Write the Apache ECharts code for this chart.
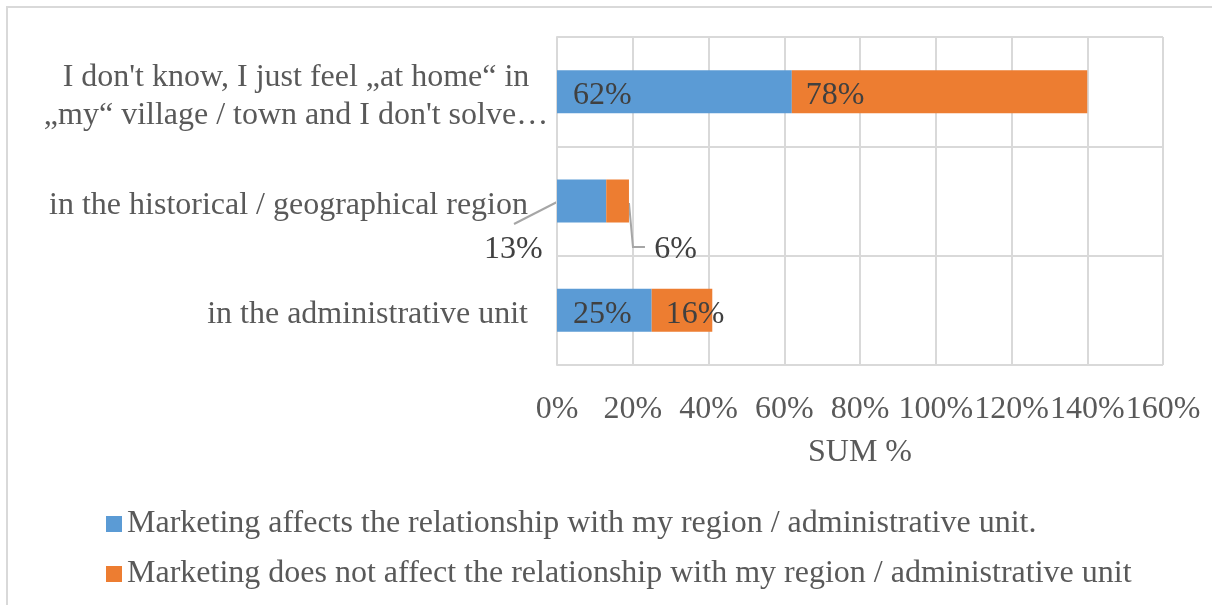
<!DOCTYPE html>
<html>
<head>
<meta charset="utf-8">
<script src="https://cdn.jsdelivr.net/npm/echarts@6/dist/echarts.min.js"></script>
<style>
  html, body { margin: 0; padding: 0; background: #fff; }
  #chart { width: 1212px; height: 605px; }
</style>
</head>
<body>
<div id="chart"></div>
<script>
// categories, bottom to top as echarts draws them
var categories = [
  'in the administrative unit',
  'in the historical / geographical region',
  'I don\'t know, I just feel \u201eat home\u201c in\n\u201emy\u201c village / town and I don\'t solve\u2026'
];
var seriesNames = [
  'Marketing affects the relationship with my region / administrative unit.',
  'Marketing does not affect the relationship with my region / administrative unit'
];
var affects = [25, 13, 62];
var notAffects = [16, 6, 78];
var xTicks = [0, 20, 40, 60, 80, 100, 120, 140, 160];

var font = 'Liberation Serif';
var fs = 32;
var smallIdx = 1; // the bar whose labels sit outside with leader lines

var chart = echarts.init(document.getElementById('chart'));

var option = {
  animation: false,
  textStyle: { fontFamily: font },
  grid: { left: 557, right: 49, top: 37, bottom: 240 },
  legend: {
    orient: 'vertical',
    left: 101,
    top: 503,
    itemWidth: 16,
    itemHeight: 16,
    itemGap: 18,
    icon: 'rect',
    textStyle: { fontFamily: font, fontSize: fs, color: '#595959' },
    data: seriesNames
  },
  xAxis: {
    type: 'value',
    min: xTicks[0],
    max: xTicks[xTicks.length - 1],
    interval: 20,
    name: 'SUM %',
    nameLocation: 'middle',
    nameGap: 72,
    nameTextStyle: { fontFamily: font, fontSize: fs, color: '#595959' },
    axisLine: { show: false },
    axisTick: { show: false },
    axisLabel: {
      fontFamily: font, fontSize: fs, color: '#595959', margin: 29,
      formatter: function (v) { return v + '%'; }
    },
    splitLine: { lineStyle: { color: '#d9d9d9', width: 2 } }
  },
  yAxis: {
    type: 'category',
    data: categories,
    axisLine: { lineStyle: { color: '#d9d9d9', width: 2 } },
    axisTick: { show: false },
    splitLine: { show: true, lineStyle: { color: '#d9d9d9', width: 2 } },
    axisLabel: {
      margin: 29,
      padding: [9, 0, 0, 0],
      fontFamily: font, fontSize: fs, color: '#595959',
      lineHeight: 38,
      formatter: function (v) {
        if (v.indexOf('\n') < 0) return v;
        return v.split('\n').map(function (s) { return '{c|' + s + '}'; }).join('\n');
      },
      rich: {
        c: { width: 464, align: 'center', fontFamily: font, fontSize: fs, color: '#595959', lineHeight: 38 }
      }
    }
  },
  series: [{
    name: seriesNames[0],
    type: 'bar',
    stack: 'total',
    barWidth: 43,
    itemStyle: { color: '#5b9bd5' },
    label: {
      show: true, position: 'insideLeft', distance: 16,
      fontFamily: font, fontSize: fs, color: '#404040',
      formatter: '{c}%'
    },
    labelLayout: function (p) {
      return p.dataIndex === smallIdx ? { dx: -89, dy: 49 } : { dy: 4 };
    },
    data: affects
  }, {
    name: seriesNames[1],
    type: 'bar',
    stack: 'total',
    barWidth: 43,
    itemStyle: { color: '#ed7d31' },
    label: {
      show: true, position: 'insideLeft', distance: 14,
      fontFamily: font, fontSize: fs, color: '#404040',
      formatter: '{c}%'
    },
    labelLayout: function (p) {
      return p.dataIndex === smallIdx ? { dx: 34, dy: 49 } : { dy: 4 };
    },
    data: notAffects
  }]
};

chart.setOption(option);

// leader lines for the small bar, placed from the axis scales
var start = chart.convertToPixel({ gridIndex: 0 }, [0, smallIdx]);
var end = chart.convertToPixel({ gridIndex: 0 }, [affects[smallIdx] + notAffects[smallIdx], smallIdx]);
var lineStyle = { stroke: '#a6a6a6', lineWidth: 2, fill: 'none' };
chart.setOption({
  graphic: [{
    type: 'rect',
    shape: { x: 7, y: 7, width: 1240, height: 640 },
    style: { fill: 'none', stroke: '#d9d9d9', lineWidth: 2 },
    silent: true
  }, {
    type: 'polyline',
    shape: { points: [[start[0], start[1] + 1], [start[0] - 43, start[1] + 23]] },
    style: lineStyle,
    silent: true
  }, {
    type: 'polyline',
    shape: { points: [[end[0], end[1] + 2], [end[0] + 4, end[1] + 46], [end[0] + 16, end[1] + 46]] },
    style: lineStyle,
    silent: true
  }]
});
</script>
</body>
</html>
